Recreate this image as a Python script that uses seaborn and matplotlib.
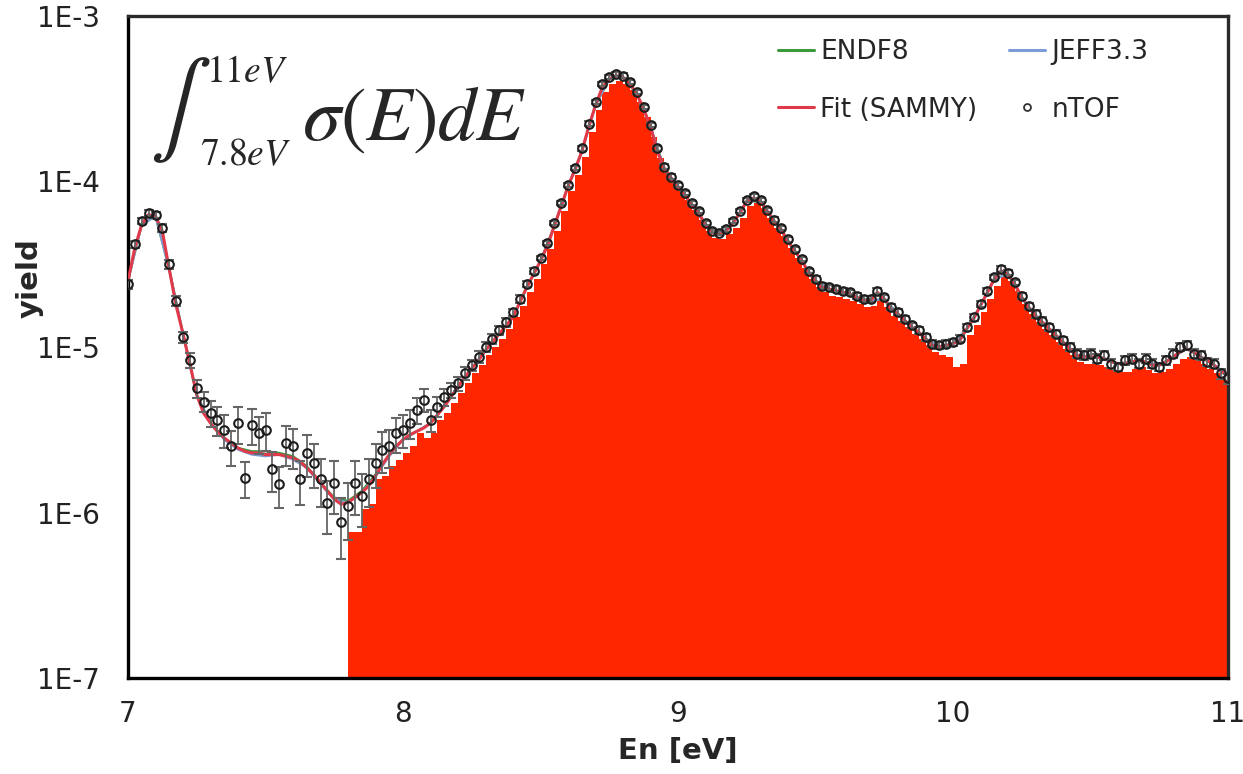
import numpy as np
import matplotlib
matplotlib.use("Agg")
import matplotlib.pyplot as plt
from matplotlib.lines import Line2D
from matplotlib.ticker import FixedLocator, MultipleLocator, NullFormatter, LogLocator
import seaborn as sns

# ---------------- data ----------------
# fine energy grid 7.000 ... 11.000 eV, step 0.025 eV (161 points)
energy_fine = np.round(np.arange(7.0, 11.0 + 1e-9, 0.025), 3)

# SAMMY fit, log10(yield)
fit_log = [
    -4.60, -4.40, -4.26, -4.20, -4.21, -4.30, -4.53, -4.75, -4.92, -5.10,   # 7.00
    -5.29, -5.40, -5.46, -5.51, -5.55, -5.58, -5.61, -5.63, -5.64, -5.64,   # 7.25
    -5.65, -5.65, -5.65, -5.66, -5.67, -5.69, -5.73, -5.77, -5.82, -5.87,   # 7.50
    -5.92, -5.95, -5.94, -5.91, -5.88, -5.84, -5.78, -5.71, -5.65, -5.60,   # 7.75
    -5.56, -5.53, -5.51, -5.49, -5.46, -5.41, -5.36, -5.30, -5.24, -5.18,   # 8.00
    -5.13, -5.08, -5.02, -4.97, -4.92, -4.87, -4.82, -4.73, -4.64, -4.56,   # 8.25
    -4.48, -4.39, -4.27, -4.15, -4.03, -3.93, -3.82, -3.67, -3.54, -3.43,   # 8.50
    -3.38, -3.36, -3.37, -3.41, -3.47, -3.56, -3.67, -3.82, -3.92, -3.98,   # 8.75
    -4.03, -4.08, -4.14, -4.19, -4.26, -4.31, -4.32, -4.30, -4.25, -4.19,   # 9.00
    -4.12, -4.10, -4.12, -4.18, -4.24, -4.29, -4.36, -4.42, -4.48, -4.55,   # 9.25
    -4.60, -4.64, -4.65, -4.66, -4.67, -4.68, -4.70, -4.72, -4.72, -4.67,   # 9.50
    -4.71, -4.77, -4.80, -4.84, -4.88, -4.91, -4.95, -4.99, -5.00, -4.99,   # 9.75
    -4.98, -4.96, -4.89, -4.83, -4.75, -4.67, -4.59, -4.54, -4.56, -4.62,   # 10.00
    -4.70, -4.76, -4.81, -4.85, -4.89, -4.93, -4.97, -5.01, -5.05, -5.06,   # 10.25
    -5.06, -5.06, -5.07, -5.09, -5.10, -5.10, -5.09, -5.08, -5.09, -5.11,   # 10.50
    -5.11, -5.09, -5.06, -5.03, -5.01, -5.03, -5.06, -5.08, -5.11, -5.15,   # 10.75
    -5.17,                                                                  # 11.00
]

# n_TOF measured yield, log10
ntof_log = [
    -4.62, -4.38, -4.24, -4.19, -4.20, -4.28, -4.50, -4.72, -4.94, -5.08,
    -5.25, -5.33, -5.40, -5.44, -5.50, -5.60, -5.46, -5.79, -5.47, -5.52,
    -5.50, -5.74, -5.83, -5.58, -5.60, -5.80, -5.64, -5.70, -5.80, -5.94,
    -5.82, -6.06, -5.96, -5.82, -5.90, -5.80, -5.70, -5.62, -5.60, -5.52,
    -5.50, -5.46, -5.38, -5.32, -5.44, -5.36, -5.30, -5.26, -5.22, -5.16,
    -5.11, -5.06, -5.00, -4.95, -4.90, -4.85, -4.79, -4.71, -4.62, -4.54,
    -4.46, -4.37, -4.25, -4.13, -4.02, -3.92, -3.80, -3.65, -3.52, -3.41,
    -3.37, -3.35, -3.36, -3.40, -3.46, -3.55, -3.66, -3.80, -3.91, -3.97,
    -4.02, -4.07, -4.13, -4.18, -4.25, -4.30, -4.31, -4.29, -4.24, -4.18,
    -4.11, -4.09, -4.11, -4.17, -4.23, -4.28, -4.35, -4.41, -4.47, -4.54,
    -4.59, -4.63, -4.64, -4.65, -4.66, -4.67, -4.69, -4.71, -4.71, -4.66,
    -4.70, -4.76, -4.79, -4.83, -4.87, -4.90, -4.94, -4.98, -4.99, -4.98,
    -4.97, -4.95, -4.88, -4.82, -4.74, -4.66, -4.58, -4.53, -4.55, -4.61,
    -4.69, -4.75, -4.80, -4.84, -4.88, -4.92, -4.96, -5.00, -5.04, -5.05,
    -5.04, -5.07, -5.05, -5.10, -5.12, -5.08, -5.07, -5.10, -5.07, -5.10,
    -5.12, -5.08, -5.04, -5.00, -4.99, -5.04, -5.05, -5.09, -5.10, -5.16,
    -5.19,
]

# n_TOF relative uncertainty
ntof_relerr = [
    0.06, 0.05, 0.04, 0.04, 0.04, 0.05, 0.06, 0.07, 0.08, 0.10,
    0.12, 0.14, 0.18, 0.20, 0.22, 0.24, 0.25, 0.25, 0.24, 0.25,
    0.26, 0.27, 0.28, 0.27, 0.27, 0.30, 0.28, 0.30, 0.32, 0.35,
    0.35, 0.40, 0.38, 0.36, 0.35, 0.32, 0.30, 0.28, 0.26, 0.24,
    0.22, 0.20, 0.18, 0.16, 0.15, 0.14, 0.12, 0.11, 0.10, 0.09,
    0.08, 0.08, 0.07, 0.07, 0.06, 0.06, 0.05, 0.05, 0.04, 0.04,
    0.03, 0.03, 0.03, 0.03, 0.03, 0.03, 0.03, 0.03, 0.03, 0.03,
    0.03, 0.03, 0.03, 0.03, 0.03, 0.03, 0.03, 0.03, 0.03, 0.03,
    0.03, 0.03, 0.03, 0.03, 0.03, 0.03, 0.03, 0.03, 0.03, 0.03,
    0.03, 0.03, 0.03, 0.03, 0.03, 0.03, 0.03, 0.03, 0.03, 0.03,
    0.04, 0.04, 0.04, 0.04, 0.04, 0.04, 0.04, 0.04, 0.04, 0.04,
    0.04, 0.04, 0.04, 0.04, 0.04, 0.05, 0.05, 0.05, 0.05, 0.05,
    0.05, 0.05, 0.05, 0.05, 0.04, 0.04, 0.04, 0.04, 0.04, 0.04,
    0.04, 0.04, 0.05, 0.05, 0.05, 0.05, 0.05, 0.05, 0.06, 0.06,
    0.06, 0.06, 0.06, 0.06, 0.06, 0.06, 0.06, 0.06, 0.06, 0.06,
    0.06, 0.06, 0.06, 0.06, 0.06, 0.06, 0.06, 0.06, 0.06, 0.07,
    0.07,
]

# evaluated libraries on a 0.05 eV grid (81 points)
energy_coarse = np.round(np.arange(7.0, 11.0 + 1e-9, 0.05), 3)
endf8_log = [
    -4.60, -4.26, -4.21, -4.53, -4.92, -5.29, -5.46, -5.55, -5.61, -5.63,   # 7.00
    -5.63, -5.64, -5.66, -5.72, -5.82, -5.91, -5.93, -5.87, -5.77, -5.65,   # 7.50
    -5.56, -5.51, -5.46, -5.36, -5.24, -5.13, -5.02, -4.92, -4.82, -4.64,   # 8.00
    -4.48, -4.27, -4.03, -3.82, -3.54, -3.38, -3.37, -3.47, -3.67, -3.92,   # 8.50
    -4.03, -4.14, -4.26, -4.32, -4.25, -4.12, -4.12, -4.24, -4.36, -4.48,   # 9.00
    -4.60, -4.65, -4.67, -4.70, -4.72, -4.71, -4.80, -4.88, -4.95, -5.00,   # 9.50
    -4.98, -4.89, -4.75, -4.59, -4.56, -4.70, -4.81, -4.89, -4.97, -5.05,   # 10.00
    -5.06, -5.07, -5.10, -5.09, -5.09, -5.11, -5.06, -5.01, -5.06, -5.11,   # 10.50
    -5.17,
]
jeff33_log = [
    -4.60, -4.26, -4.21, -4.53, -4.92, -5.29, -5.46, -5.56, -5.62, -5.65,
    -5.66, -5.65, -5.68, -5.73, -5.83, -5.92, -5.94, -5.88, -5.78, -5.66,
    -5.56, -5.51, -5.46, -5.36, -5.24, -5.13, -5.02, -4.92, -4.82, -4.64,
    -4.48, -4.27, -4.03, -3.82, -3.54, -3.38, -3.37, -3.47, -3.67, -3.92,
    -4.03, -4.14, -4.26, -4.32, -4.25, -4.12, -4.12, -4.24, -4.36, -4.48,
    -4.60, -4.65, -4.67, -4.70, -4.72, -4.71, -4.80, -4.88, -4.95, -5.00,
    -4.98, -4.89, -4.75, -4.59, -4.56, -4.70, -4.81, -4.89, -4.97, -5.05,
    -5.06, -5.07, -5.10, -5.09, -5.09, -5.11, -5.06, -5.01, -5.06, -5.11,
    -5.17,
]

# integration region: histogram 7.8 ... 11 eV, 0.025 eV bins (128 bins), log10
fill_edges = np.round(np.arange(7.8, 11.0 + 1e-9, 0.025), 3)
fill_log = [
    -6.12, -6.12, -5.98, -5.95, -5.80, -5.78, -5.72, -5.68,                 # 7.800
    -5.64, -5.60, -5.52, -5.55, -5.52, -5.44, -5.40, -5.34, -5.28, -5.22,   # 8.000
    -5.16, -5.11, -5.05, -5.00, -4.95, -4.89, -4.82, -4.75, -4.67, -4.59,   # 8.250
    -4.50, -4.41, -4.30, -4.18, -4.06, -3.96, -3.85, -3.70, -3.57, -3.46,   # 8.500
    -3.41, -3.39, -3.41, -3.45, -3.52, -3.61, -3.73, -3.86, -3.95, -4.01,   # 8.750
    -4.06, -4.11, -4.17, -4.23, -4.30, -4.34, -4.35, -4.32, -4.28, -4.22,   # 9.000
    -4.15, -4.13, -4.16, -4.22, -4.28, -4.33, -4.40, -4.46, -4.52, -4.59,   # 9.250
    -4.64, -4.67, -4.69, -4.70, -4.71, -4.72, -4.74, -4.76, -4.75, -4.71,   # 9.500
    -4.76, -4.81, -4.84, -4.88, -4.92, -4.95, -4.99, -5.03, -5.05, -5.06,   # 9.750
    -5.12, -5.10, -4.93, -4.87, -4.79, -4.71, -4.63, -4.58, -4.60, -4.66,   # 10.000
    -4.74, -4.80, -4.85, -4.89, -4.93, -4.97, -5.01, -5.05, -5.09, -5.10,   # 10.250
    -5.10, -5.11, -5.12, -5.14, -5.15, -5.15, -5.13, -5.12, -5.14, -5.16,   # 10.500
    -5.15, -5.13, -5.10, -5.07, -5.06, -5.08, -5.10, -5.13, -5.16, -5.20,   # 10.750
]

x_ticks = [7, 8, 9, 10, 11]
x_tick_labels = ["7", "8", "9", "10", "11"]
y_ticks = [1e-7, 1e-6, 1e-5, 1e-4, 1e-3]
y_tick_labels = ["1E-7", "1E-6", "1E-5", "1E-4", "1E-3"]

# ---------------- figure ----------------
sns.set_style("white")
plt.rcParams["font.family"] = ["DejaVu Sans"]
plt.rcParams["mathtext.fontset"] = "stix"

W, H = 1243, 774
fig = plt.figure(figsize=(W / 100, H / 100), dpi=100)
ax = fig.add_axes([128 / W, 1 - 678 / H, 1100 / W, 662 / H])

fit_y = 10 ** np.array(fit_log)
ntof_y = 10 ** np.array(ntof_log)
ntof_err = ntof_y * np.array(ntof_relerr)
endf_y = 10 ** np.array(endf8_log)
jeff_y = 10 ** np.array(jeff33_log)
fill_y = 10 ** np.array(fill_log)

red_fill = "#ff2600"
c_endf = "#3c9a3c"
c_jeff = "#7d9bd6"
c_fit = "#e03a4a"

ax.stairs(fill_y, fill_edges, fill=True, baseline=1e-7, color=red_fill, zorder=1, lw=0)

sns.lineplot(x=energy_coarse, y=endf_y, ax=ax, color=c_endf, lw=1.6, sort=False,
             estimator=None, legend=False, zorder=2)
sns.lineplot(x=energy_coarse, y=jeff_y, ax=ax, color=c_jeff, lw=1.6, sort=False,
             estimator=None, legend=False, zorder=2)
sns.lineplot(x=energy_fine, y=fit_y, ax=ax, color=c_fit, lw=2.2, sort=False,
             estimator=None, legend=False, zorder=3)

ax.errorbar(energy_fine, ntof_y, yerr=ntof_err, fmt="o", ms=6.2, mfc="none",
            mec="#1c1c1c", mew=1.5, ecolor="#666666", elinewidth=1.3, capsize=3.5,
            capthick=1.3, zorder=4)

ax.set_yscale("log")
ax.set_xlim(7, 11)
ax.set_ylim(1e-7, 1e-3)

ax.xaxis.set_major_locator(FixedLocator(x_ticks))
ax.set_xticklabels(x_tick_labels)
ax.xaxis.set_minor_locator(MultipleLocator(0.2))
ax.yaxis.set_major_locator(FixedLocator(y_ticks))
ax.set_yticklabels(y_tick_labels)
ax.yaxis.set_minor_locator(LogLocator(base=10, subs=np.arange(2, 10)))
ax.yaxis.set_minor_formatter(NullFormatter())

ax.tick_params(axis="both", which="both", direction="in", colors="black",
               labelcolor="#222222", labelsize=20)
ax.tick_params(axis="y", which="major", length=13, width=2.2, pad=20)
ax.tick_params(axis="y", which="minor", length=8, width=2.0)
ax.tick_params(axis="x", which="major", length=10, width=2.0, pad=16)
ax.tick_params(axis="x", which="minor", length=7, width=1.6)
ax.tick_params(top=False, right=False)

for side in ["left", "bottom"]:
    ax.spines[side].set_linewidth(2.4)
    ax.spines[side].set_color("black")
for side in ["top", "right"]:
    ax.spines[side].set_linewidth(2.4)
    ax.spines[side].set_color("#2a2a2a")

ax.set_xlabel("En [eV]", fontsize=21, fontweight="bold", labelpad=6)
ax.set_ylabel("yield", fontsize=21, fontweight="bold")
ax.yaxis.set_label_coords((44 - 128) / 1100, (678 - 278) / 662)

# legend (row-major order: ENDF8, JEFF3.3 / Fit (SAMMY), nTOF)
h_endf = Line2D([], [], color=c_endf, lw=2.2)
h_jeff = Line2D([], [], color=c_jeff, lw=2.2)
h_fit = Line2D([], [], color=c_fit, lw=2.2)
h_ntof = Line2D([], [], ls="none", marker="o", ms=5, mfc="none", mec="#333333", mew=1.3)
ax.legend([h_endf, h_fit, h_jeff, h_ntof], ["ENDF8", "Fit (SAMMY)", "JEFF3.3", "nTOF"],
          ncol=2, loc="upper left",
          bbox_to_anchor=((778 - 128) / 1100, (678 - 39) / 662), frameon=False,
          fontsize=19, handlelength=1.35, handletextpad=0.25, columnspacing=1.2,
          labelspacing=1.2, borderpad=0, borderaxespad=0)

# integral annotation
def fx(px):
    return px / W

def fy(py):
    return 1 - py / H

fig.text(fx(150), fy(110), r"$\int$", fontsize=66, va="center", ha="left")
fig.text(fx(206), fy(82), r"$11eV$", fontsize=27, va="baseline", ha="left")
fig.text(fx(200), fy(165), r"$7.8eV$", fontsize=27, va="baseline", ha="left")
fig.text(fx(302), fy(140), r"$\sigma(E)dE$", fontsize=55, va="baseline", ha="left")

fig.savefig("out.png", dpi=100)
